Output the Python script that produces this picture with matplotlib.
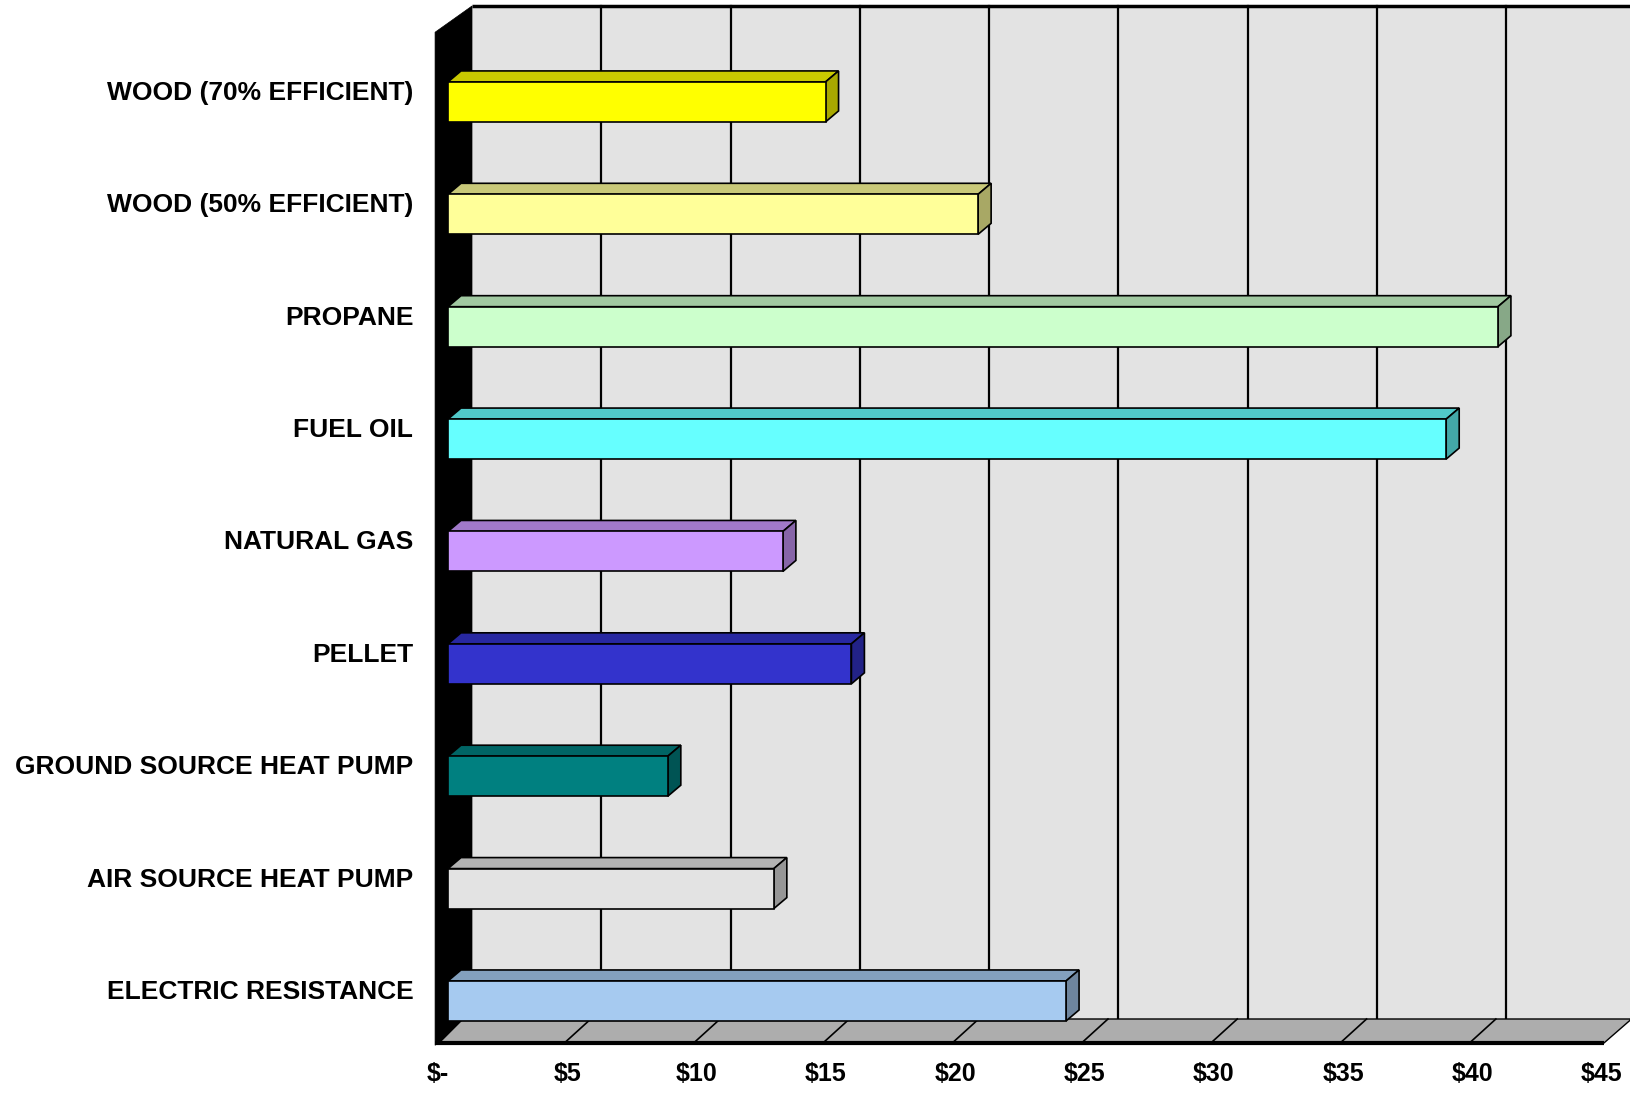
import matplotlib
matplotlib.use("Agg")
import matplotlib.pyplot as plt
from matplotlib.patches import Polygon
from matplotlib.transforms import ScaledTranslation
import numpy as np

# --- data ---
categories = ["WOOD (70% EFFICIENT)", "WOOD (50% EFFICIENT)", "PROPANE", "FUEL OIL",
              "NATURAL GAS", "PELLET", "GROUND SOURCE HEAT PUMP",
              "AIR SOURCE HEAT PUMP", "ELECTRIC RESISTANCE"]
costs = [14.6, 20.5, 40.6, 38.6, 12.95, 15.6, 8.5, 12.6, 23.9]
front_colors = ["#FFFF00", "#FFFF99", "#CCFFCC", "#66FFFF", "#CC99FF",
                "#3333CC", "#008080", "#E3E3E3", "#A6CAF0"]
x_ticks = [0, 5, 10, 15, 20, 25, 30, 35, 40, 45]
x_labels = ["$-", "$5", "$10", "$15", "$20", "$25", "$30", "$35", "$40", "$45"]

DPI = 100
W, H = 1631, 1094
plt.rcParams["font.family"] = ["Liberation Sans", "DejaVu Sans"]

fig = plt.figure(figsize=(W / DPI, H / DPI), dpi=DPI, facecolor="white")
# front plane of the 3D box, in pixels: x 448..1612, y 30..1043
ax = fig.add_axes([448 / W, (H - 1043) / H, (45 * 25.86) / W, (1043 - 30) / H])
XMAX = 45
Y_BOT, Y_TOP = 8.374, -0.64
ax.set_xlim(0, XMAX)
ax.set_ylim(Y_BOT, Y_TOP)
ax.set_facecolor("none")
for s in ax.spines.values():
    s.set_visible(False)

px_x = 25.86      # px per dollar
px_y = 112.38     # px per category
wdx, wdy = 24 / px_x, 24 / px_y     # wall depth
bdx, bdy = 13 / px_x, 11 / px_y     # bar depth
bar_h = 40 / px_y


def shade(c, f):
    r, g, b = matplotlib.colors.to_rgb(c)
    return (r * f, g * f, b * f)


# back wall
wall = Polygon([(wdx, Y_BOT - wdy), (wdx, Y_TOP - wdy), (XMAX + 2 + wdx, Y_TOP - wdy),
                (XMAX + 2 + wdx, Y_BOT - wdy)], closed=True, facecolor="#E3E3E3",
               edgecolor="none", clip_on=False, zorder=1)
ax.add_patch(wall)
ax.plot([wdx, XMAX + 2 + wdx], [Y_TOP - wdy, Y_TOP - wdy], color="black", lw=2.5,
        clip_on=False, zorder=2, solid_capstyle="butt")
for t in x_ticks[1:]:
    ax.plot([t + wdx, t + wdx], [Y_BOT - wdy, Y_TOP - wdy], color="black", lw=1.6,
            clip_on=False, zorder=2)

# floor
floor_r = 44.7
floor = Polygon([(-0.35, Y_BOT), (floor_r, Y_BOT), (floor_r + wdx * 1.15, Y_BOT - wdy),
                 (-0.35 + wdx, Y_BOT - wdy)], closed=True, facecolor="#ADADAD",
                edgecolor="black", lw=1.0, clip_on=False, zorder=3)
ax.add_patch(floor)
for t in x_ticks[1:-1]:
    ax.plot([t - 0.5, t - 0.5 + wdx * 1.1], [Y_BOT, Y_BOT - wdy], color="black", lw=1.2,
            clip_on=False, zorder=4)
ax.plot([-0.5, floor_r], [Y_BOT, Y_BOT], color="black", lw=3.0, clip_on=False, zorder=4,
        solid_capstyle="butt")

# left black wall
lwall = Polygon([(-0.5, Y_BOT + 0.02), (-0.5, Y_TOP + 0.02), (wdx, Y_TOP - wdy),
                 (wdx, Y_BOT - wdy)], closed=True, facecolor="black", edgecolor="black",
                lw=0.5, clip_on=False, zorder=2.5)
ax.add_patch(lwall)

# bars
y = np.arange(len(categories))
for i, (v, c) in enumerate(zip(costs, front_colors)):
    top, bot = i - bar_h / 2, i + bar_h / 2
    top_face = Polygon([(0, top), (v, top), (v + bdx, top - bdy), (bdx, top - bdy)],
                       closed=True, facecolor=shade(c, 0.79), edgecolor="black",
                       lw=1.2, zorder=5, clip_on=False)
    side_face = Polygon([(v, top), (v + bdx, top - bdy), (v + bdx, bot - bdy), (v, bot)],
                        closed=True, facecolor=shade(c, 0.66), edgecolor="black",
                        lw=1.2, zorder=5, clip_on=False)
    ax.add_patch(top_face)
    ax.add_patch(side_face)
ax.barh(y, costs, height=bar_h, left=0, color=front_colors, edgecolor="black",
        linewidth=1.2, zorder=6)

# axis labels
ax.set_yticks(y)
ax.set_yticklabels(categories, fontsize=19, fontweight="bold")
ax.set_xticks(x_ticks)
ax.set_xticklabels(x_labels, fontsize=18, fontweight="bold")
ax.tick_params(axis="y", length=0, pad=25)
ax.tick_params(axis="x", length=0, pad=14)
for lab in ax.get_yticklabels():
    lab.set_transform(lab.get_transform() + ScaledTranslation(0, 11.5 / DPI, fig.dpi_scale_trans))
for lab in ax.get_xticklabels():
    lab.set_transform(lab.get_transform() + ScaledTranslation(-10 / DPI, 0, fig.dpi_scale_trans))

fig.savefig("out.png", dpi=DPI, facecolor="white")
plt.close(fig)
